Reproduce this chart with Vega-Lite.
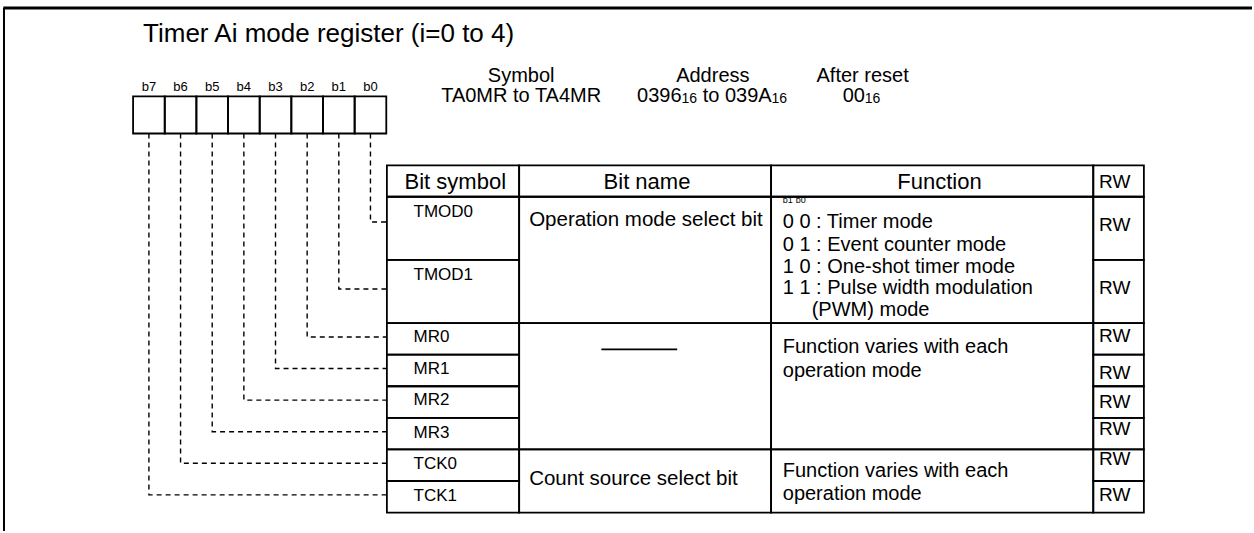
{
  "$schema": "https://vega.github.io/schema/vega-lite/v6.json",
  "width": 1254,
  "height": 533,
  "padding": 0,
  "autosize": {"type": "fit", "contains": "padding"},
  "background": "white",
  "config": {"view": {"stroke": null}, "text": {"font": "Liberation Sans", "color": "black"}},
  "datasets": {
    "frame": [
      {"part": "top", "x": -4.101, "x2": 35.353, "y": -5.978, "y2": -5.978},
      {"part": "left", "x": -4.079, "x2": -4.079, "y": -5.978, "y2": 10.584}
    ],
    "regs": [
      {"bit": "b7", "x": 0, "x2": 1, "y": -3.18, "y2": -2.003},
      {"bit": "b6", "x": 1, "x2": 2, "y": -3.18, "y2": -2.003},
      {"bit": "b5", "x": 2, "x2": 3, "y": -3.18, "y2": -2.003},
      {"bit": "b4", "x": 3, "x2": 4, "y": -3.18, "y2": -2.003},
      {"bit": "b3", "x": 4, "x2": 5, "y": -3.18, "y2": -2.003},
      {"bit": "b2", "x": 5, "x2": 6, "y": -3.18, "y2": -2.003},
      {"bit": "b1", "x": 6, "x2": 7, "y": -3.18, "y2": -2.003},
      {"bit": "b0", "x": 7, "x2": 8, "y": -3.18, "y2": -2.003}
    ],
    "links": [
      {"bit": "b0", "ord": 1, "x": 7.5, "y": -2.0},
      {"bit": "b0", "ord": 2, "x": 7.5, "y": 0.8},
      {"bit": "b0", "ord": 3, "x": 8.019, "y": 0.8},
      {"bit": "b1", "ord": 1, "x": 6.5, "y": -2.0},
      {"bit": "b1", "ord": 2, "x": 6.5, "y": 2.92},
      {"bit": "b1", "ord": 3, "x": 8.019, "y": 2.92},
      {"bit": "b2", "ord": 1, "x": 5.5, "y": -2.0},
      {"bit": "b2", "ord": 2, "x": 5.5, "y": 4.44},
      {"bit": "b2", "ord": 3, "x": 8.019, "y": 4.44},
      {"bit": "b3", "ord": 1, "x": 4.5, "y": -2.0},
      {"bit": "b3", "ord": 2, "x": 4.5, "y": 5.44},
      {"bit": "b3", "ord": 3, "x": 8.019, "y": 5.44},
      {"bit": "b4", "ord": 1, "x": 3.5, "y": -2.0},
      {"bit": "b4", "ord": 2, "x": 3.5, "y": 6.44},
      {"bit": "b4", "ord": 3, "x": 8.019, "y": 6.44},
      {"bit": "b5", "ord": 1, "x": 2.5, "y": -2.0},
      {"bit": "b5", "ord": 2, "x": 2.5, "y": 7.44},
      {"bit": "b5", "ord": 3, "x": 8.019, "y": 7.44},
      {"bit": "b6", "ord": 1, "x": 1.5, "y": -2.0},
      {"bit": "b6", "ord": 2, "x": 1.5, "y": 8.44},
      {"bit": "b6", "ord": 3, "x": 8.019, "y": 8.44},
      {"bit": "b7", "ord": 1, "x": 0.5, "y": -2.0},
      {"bit": "b7", "ord": 2, "x": 0.5, "y": 9.44},
      {"bit": "b7", "ord": 3, "x": 8.019, "y": 9.44}
    ],
    "table": [
      {"cell": "h-symbol", "x": 8.019, "x2": 12.198, "y": -0.994, "y2": 0},
      {"cell": "h-name", "x": 12.198, "x2": 20.158, "y": -0.994, "y2": 0},
      {"cell": "h-func", "x": 20.158, "x2": 30.338, "y": -0.994, "y2": 0},
      {"cell": "h-rw", "x": 30.338, "x2": 31.937, "y": -0.994, "y2": 0},
      {"cell": "s-TMOD0", "x": 8.019, "x2": 12.198, "y": 0, "y2": 2},
      {"cell": "s-TMOD1", "x": 8.019, "x2": 12.198, "y": 2, "y2": 4},
      {"cell": "s-MR0", "x": 8.019, "x2": 12.198, "y": 4, "y2": 5},
      {"cell": "s-MR1", "x": 8.019, "x2": 12.198, "y": 5, "y2": 6},
      {"cell": "s-MR2", "x": 8.019, "x2": 12.198, "y": 6, "y2": 7},
      {"cell": "s-MR3", "x": 8.019, "x2": 12.198, "y": 7, "y2": 8},
      {"cell": "s-TCK0", "x": 8.019, "x2": 12.198, "y": 8, "y2": 9},
      {"cell": "s-TCK1", "x": 8.019, "x2": 12.198, "y": 9, "y2": 10},
      {"cell": "n-op", "x": 12.198, "x2": 20.158, "y": 0, "y2": 4},
      {"cell": "n-mr", "x": 12.198, "x2": 20.158, "y": 4, "y2": 8},
      {"cell": "n-tck", "x": 12.198, "x2": 20.158, "y": 8, "y2": 10},
      {"cell": "f-op", "x": 20.158, "x2": 30.338, "y": 0, "y2": 4},
      {"cell": "f-mr", "x": 20.158, "x2": 30.338, "y": 4, "y2": 8},
      {"cell": "f-tck", "x": 20.158, "x2": 30.338, "y": 8, "y2": 10},
      {"cell": "r-TMOD0", "x": 30.338, "x2": 31.937, "y": 0, "y2": 2},
      {"cell": "r-TMOD1", "x": 30.338, "x2": 31.937, "y": 2, "y2": 4},
      {"cell": "r-MR0", "x": 30.338, "x2": 31.937, "y": 4, "y2": 5},
      {"cell": "r-MR1", "x": 30.338, "x2": 31.937, "y": 5, "y2": 6},
      {"cell": "r-MR2", "x": 30.338, "x2": 31.937, "y": 6, "y2": 7},
      {"cell": "r-MR3", "x": 30.338, "x2": 31.937, "y": 7, "y2": 8},
      {"cell": "r-TCK0", "x": 30.338, "x2": 31.937, "y": 8, "y2": 9},
      {"cell": "r-TCK1", "x": 30.338, "x2": 31.937, "y": 9, "y2": 10}
    ],
    "dashline": [
      {"x": 14.795, "x2": 17.192, "y": 4.833, "y2": 4.833}
    ],
    "texts": [
      {"style": "title", "label": "Timer Ai mode register (i=0 to 4)", "x": 0.315, "y": -4.896},
      {"style": "bitlabel", "label": "b7", "x": 0.5, "y": -3.338},
      {"style": "bitlabel", "label": "b6", "x": 1.5, "y": -3.338},
      {"style": "bitlabel", "label": "b5", "x": 2.5, "y": -3.338},
      {"style": "bitlabel", "label": "b4", "x": 3.5, "y": -3.338},
      {"style": "bitlabel", "label": "b3", "x": 4.5, "y": -3.338},
      {"style": "bitlabel", "label": "b2", "x": 5.5, "y": -3.338},
      {"style": "bitlabel", "label": "b1", "x": 6.5, "y": -3.338},
      {"style": "bitlabel", "label": "b0", "x": 7.5, "y": -3.338},
      {"style": "hdr", "label": "Symbol", "x": 12.262, "y": -3.637},
      {"style": "hdr", "label": "TA0MR to TA4MR", "x": 12.262, "y": -3.006},
      {"style": "hdr", "label": "Address", "x": 18.318, "y": -3.637},
      {"style": "hdr", "label": "After reset", "x": 23.05, "y": -3.637},
      {"style": "hdrleft", "label": "0396", "x": 15.924, "y": -3.006},
      {"style": "hdrleft", "label": "to 039A", "x": 17.997, "y": -3.006},
      {"style": "hdrleft", "label": "00", "x": 22.42, "y": -3.006},
      {"style": "hdrsub", "label": "16", "x": 17.328, "y": -2.98},
      {"style": "hdrsub", "label": "16", "x": 20.17, "y": -2.98},
      {"style": "hdrsub", "label": "16", "x": 23.12, "y": -2.98},
      {"style": "colhead", "label": "Bit symbol", "x": 10.18, "y": -0.249},
      {"style": "colhead", "label": "Bit name", "x": 16.237, "y": -0.249},
      {"style": "colhead", "label": "Function", "x": 25.48, "y": -0.249},
      {"style": "rw", "label": "RW", "x": 31.016, "y": -0.284},
      {"style": "sym", "label": "TMOD0", "x": 8.86, "y": 0.64},
      {"style": "sym", "label": "TMOD1", "x": 8.86, "y": 2.637},
      {"style": "sym", "label": "MR0", "x": 8.86, "y": 4.603},
      {"style": "sym", "label": "MR1", "x": 8.86, "y": 5.612},
      {"style": "sym", "label": "MR2", "x": 8.86, "y": 6.58},
      {"style": "sym", "label": "MR3", "x": 8.86, "y": 7.631},
      {"style": "sym", "label": "TCK0", "x": 8.86, "y": 8.631},
      {"style": "sym", "label": "TCK1", "x": 8.86, "y": 9.631},
      {"style": "name", "label": "Operation mode select bit", "x": 12.514, "y": 0.94},
      {"style": "name", "label": "Count source select bit", "x": 12.514, "y": 9.142},
      {"style": "tiny", "label": "b1", "x": 20.527, "y": 0.192},
      {"style": "tiny", "label": "b0", "x": 20.937, "y": 0.192},
      {"style": "func", "label": "0 0 : Timer mode", "x": 20.527, "y": 0.99},
      {"style": "func", "label": "0 1 : Event counter mode", "x": 20.527, "y": 1.726},
      {"style": "func", "label": "1 0 : One-shot timer mode", "x": 20.527, "y": 2.429},
      {"style": "func", "label": "1 1 : Pulse width modulation", "x": 20.527, "y": 3.091},
      {"style": "func", "label": "(PWM) mode", "x": 21.442, "y": 3.776},
      {"style": "func", "label": "Function varies with each", "x": 20.527, "y": 4.953},
      {"style": "func", "label": "operation mode", "x": 20.527, "y": 5.722},
      {"style": "func", "label": "Function varies with each", "x": 20.527, "y": 8.877},
      {"style": "func", "label": "operation mode", "x": 20.527, "y": 9.612},
      {"style": "rw", "label": "RW", "x": 31.016, "y": 1.082},
      {"style": "rw", "label": "RW", "x": 31.016, "y": 3.069},
      {"style": "rw", "label": "RW", "x": 31.016, "y": 4.584},
      {"style": "rw", "label": "RW", "x": 31.016, "y": 5.76},
      {"style": "rw", "label": "RW", "x": 31.016, "y": 6.688},
      {"style": "rw", "label": "RW", "x": 31.016, "y": 7.549},
      {"style": "rw", "label": "RW", "x": 31.016, "y": 8.495},
      {"style": "rw", "label": "RW", "x": 31.016, "y": 9.631}
    ]
  },
  "encoding": {
    "x": {"field": "x", "type": "quantitative", "scale": {"domain": [-4.205, 35.3533], "nice": false, "zero": false}, "axis": null},
    "y": {"field": "y", "type": "quantitative", "scale": {"domain": [-6.2303, 10.5836], "reverse": true, "nice": false, "zero": false}, "axis": null}
  },
  "layer": [
    {
      "data": {"name": "frame"},
      "transform": [{"filter": "datum.part === 'top'"}],
      "mark": {"type": "rule", "color": "black", "strokeWidth": 3},
      "encoding": {"x2": {"field": "x2"}, "y2": {"field": "y2"}}
    },
    {
      "data": {"name": "frame"},
      "transform": [{"filter": "datum.part === 'left'"}],
      "mark": {"type": "rule", "color": "black", "strokeWidth": 2},
      "encoding": {"x2": {"field": "x2"}, "y2": {"field": "y2"}}
    },
    {
      "data": {"name": "regs"},
      "mark": {"type": "rect", "fill": "white", "fillOpacity": 0, "stroke": "black", "strokeWidth": 1.8},
      "encoding": {"x2": {"field": "x2"}, "y2": {"field": "y2"}}
    },
    {
      "data": {"name": "links"},
      "mark": {"type": "line", "color": "black", "strokeWidth": 1.4, "strokeDash": [5, 4]},
      "encoding": {"detail": {"field": "bit"}, "order": {"field": "ord", "type": "quantitative"}}
    },
    {
      "data": {"name": "table"},
      "mark": {"type": "rect", "fill": "white", "fillOpacity": 0, "stroke": "black", "strokeWidth": 1.8},
      "encoding": {"x2": {"field": "x2"}, "y2": {"field": "y2"}}
    },
    {
      "data": {"name": "dashline"},
      "mark": {"type": "rule", "color": "black", "strokeWidth": 1.6},
      "encoding": {"x2": {"field": "x2"}, "y2": {"field": "y2"}}
    },
    {
      "data": {"name": "texts"},
      "transform": [{"filter": "datum.style === 'title'"}],
      "mark": {"type": "text", "fontSize": 26, "align": "left", "baseline": "alphabetic"},
      "encoding": {"text": {"field": "label"}}
    },
    {
      "data": {"name": "texts"},
      "transform": [{"filter": "datum.style === 'bitlabel'"}],
      "mark": {"type": "text", "fontSize": 13, "align": "center", "baseline": "alphabetic"},
      "encoding": {"text": {"field": "label"}}
    },
    {
      "data": {"name": "texts"},
      "transform": [{"filter": "datum.style === 'hdr'"}],
      "mark": {"type": "text", "fontSize": 20, "align": "center", "baseline": "alphabetic"},
      "encoding": {"text": {"field": "label"}}
    },
    {
      "data": {"name": "texts"},
      "transform": [{"filter": "datum.style === 'hdrleft'"}],
      "mark": {"type": "text", "fontSize": 20, "align": "left", "baseline": "alphabetic"},
      "encoding": {"text": {"field": "label"}}
    },
    {
      "data": {"name": "texts"},
      "transform": [{"filter": "datum.style === 'hdrsub'"}],
      "mark": {"type": "text", "fontSize": 14, "align": "left", "baseline": "alphabetic"},
      "encoding": {"text": {"field": "label"}}
    },
    {
      "data": {"name": "texts"},
      "transform": [{"filter": "datum.style === 'colhead'"}],
      "mark": {"type": "text", "fontSize": 22, "align": "center", "baseline": "alphabetic"},
      "encoding": {"text": {"field": "label"}}
    },
    {
      "data": {"name": "texts"},
      "transform": [{"filter": "datum.style === 'sym'"}],
      "mark": {"type": "text", "fontSize": 17, "align": "left", "baseline": "alphabetic"},
      "encoding": {"text": {"field": "label"}}
    },
    {
      "data": {"name": "texts"},
      "transform": [{"filter": "datum.style === 'name'"}],
      "mark": {"type": "text", "fontSize": 20.5, "align": "left", "baseline": "alphabetic"},
      "encoding": {"text": {"field": "label"}}
    },
    {
      "data": {"name": "texts"},
      "transform": [{"filter": "datum.style === 'tiny'"}],
      "mark": {"type": "text", "fontSize": 9, "align": "left", "baseline": "alphabetic"},
      "encoding": {"text": {"field": "label"}}
    },
    {
      "data": {"name": "texts"},
      "transform": [{"filter": "datum.style === 'func'"}],
      "mark": {"type": "text", "fontSize": 20, "align": "left", "baseline": "alphabetic"},
      "encoding": {"text": {"field": "label"}}
    },
    {
      "data": {"name": "texts"},
      "transform": [{"filter": "datum.style === 'rw'"}],
      "mark": {"type": "text", "fontSize": 19, "align": "center", "baseline": "alphabetic"},
      "encoding": {"text": {"field": "label"}}
    }
  ]
}
